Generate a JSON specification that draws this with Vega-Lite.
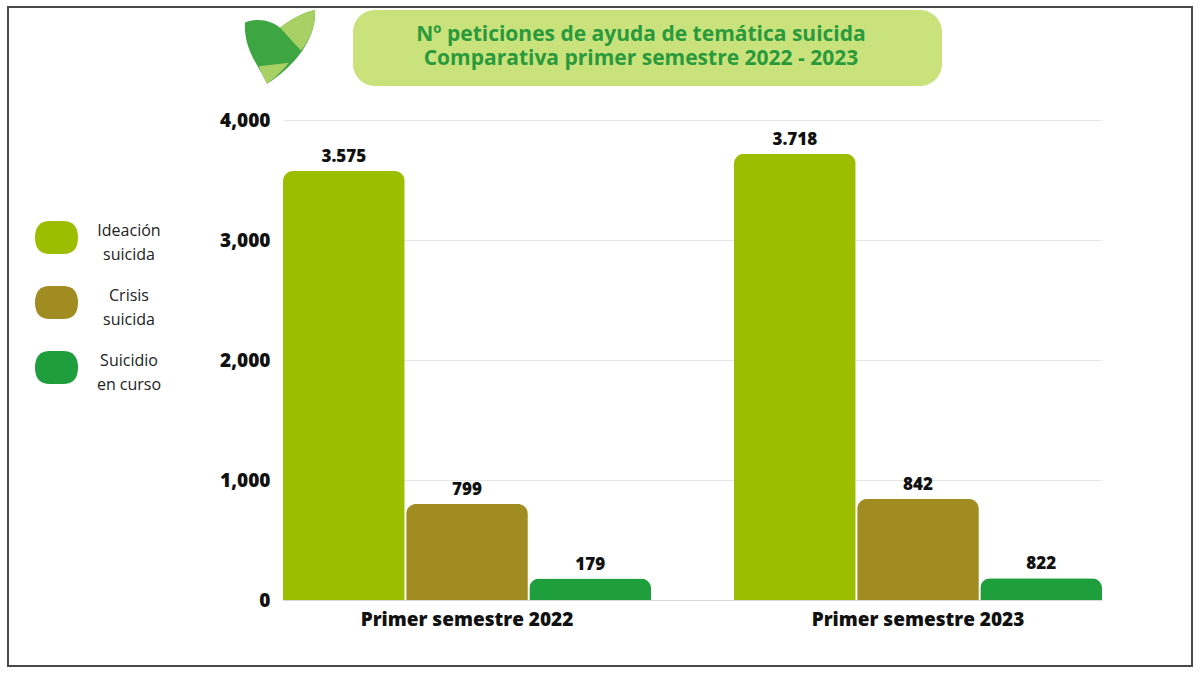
{
  "$schema": "https://vega.github.io/schema/vega-lite/v6.json",
  "background": "white",
  "autosize": "none",
  "padding": {"left": 8, "top": 7, "right": 8, "bottom": 9},
  "width": 1184,
  "height": 659,
  "view": {"stroke": "#4a4a4a", "strokeWidth": 2},
  "config": {
    "font": "Open Sans",
    "style": {"guide-label": {"lineHeight": 24}}
  },
  "data": {
    "values": [
      {"periodo": "Primer semestre 2022", "categoria": "Ideación suicida", "valor": 3575, "etiqueta": "3.575"},
      {"periodo": "Primer semestre 2022", "categoria": "Crisis suicida", "valor": 799, "etiqueta": "799"},
      {"periodo": "Primer semestre 2022", "categoria": "Suicidio en curso", "valor": 179, "etiqueta": "179"},
      {"periodo": "Primer semestre 2023", "categoria": "Ideación suicida", "valor": 3718, "etiqueta": "3.718"},
      {"periodo": "Primer semestre 2023", "categoria": "Crisis suicida", "valor": 842, "etiqueta": "842"},
      {"periodo": "Primer semestre 2023", "categoria": "Suicidio en curso", "valor": 182, "etiqueta": "822"}
    ]
  },
  "encoding": {
    "x": {
      "field": "periodo",
      "type": "nominal",
      "title": null,
      "scale": {"range": [275, 1094], "paddingInner": 0.184, "paddingOuter": 0},
      "axis": {"orient": "bottom", "offset": -66, "labelPadding": 10, "ticks": false, "domainColor": "#d9d9d9",
        "labelAngle": 0, "labelFontSize": 19, "labelFontWeight": 800, "labelColor": "#111", "labelLimit": 0}
    },
    "xOffset": {
      "field": "categoria",
      "type": "nominal",
      "sort": ["Ideación suicida", "Crisis suicida", "Suicidio en curso"],
      "scale": {"paddingInner": 0.012, "paddingOuter": 0}
    },
    "y": {
      "field": "valor",
      "type": "quantitative",
      "title": null,
      "scale": {"domain": [0, 4000], "range": [593, 113], "nice": false},
      "axis": {"values": [0, 1000, 2000, 3000, 4000], "format": ",d", "offset": -270, "domain": false, "ticks": false,
        "labelPadding": 8, "labelFontSize": 19, "labelFontWeight": 800, "labelColor": "#111", "gridColor": "#e6e6e6"}
    }
  },
  "layer": [
    {
      "mark": {"type": "bar", "cornerRadiusTopLeft": 10, "cornerRadiusTopRight": 10},
      "encoding": {
        "color": {
          "field": "categoria",
          "type": "nominal",
          "sort": ["Ideación suicida", "Crisis suicida", "Suicidio en curso"],
          "scale": {"domain": ["Ideación suicida", "Crisis suicida", "Suicidio en curso"], "range": ["#9dbe00", "#a08c20", "#1e9e3c"]},
          "legend": {
            "orient": "none", "legendX": 27, "legendY": 209, "title": null,
            "symbolType": "M -0.3,-0.77 L 0.3,-0.77 Q 1,-0.77 1,0 Q 1,0.77 0.3,0.77 L -0.3,0.77 Q -1,0.77 -1,0 Q -1,-0.77 -0.3,-0.77 Z",
            "symbolSize": 1849, "symbolStrokeWidth": 0, "symbolOpacity": 1,
            "labelAlign": "center", "labelOffset": 51, "labelFontSize": 16, "labelFontWeight": 500, "labelColor": "#222", "labelLimit": 0,
            "rowPadding": 18,
            "labelExpr": "[slice(datum.label, 0, indexof(datum.label, ' ')), slice(datum.label, indexof(datum.label, ' ') + 1)]",
            "encode": {"labels": {"update": {"dy": {"value": -7}}}}
          }
        }
      }
    },
    {
      "mark": {"type": "text", "dy": -9, "baseline": "alphabetic", "fontSize": 17, "fontWeight": 800, "color": "#111", "strokeWidth": 0, "strokeOpacity": 0},
      "encoding": {
        "text": {"field": "etiqueta"},
        "stroke": {
          "datum": 1,
          "type": "quantitative",
          "scale": {"domain": [0, 1], "range": ["#c9e27b", "#c9e27b"]},
          "legend": {
            "orient": "none", "legendX": 345, "legendY": 3, "direction": "horizontal",
            "title": ["Nº peticiones de ayuda de temática suicida", "Comparativa primer semestre 2022 - 2023"],
            "titleFontSize": 21, "titleFontWeight": 700, "titleColor": "#2a9a3c", "titleLineHeight": 24,
            "titleAnchor": "middle", "titleAlign": "center", "titleLimit": 0, "titlePadding": 1,
            "gradientLength": 561, "gradientThickness": 1, "gradientStrokeWidth": 0,
            "labelExpr": "''", "labelFontSize": 1, "labelOpacity": 0, "labelOffset": 0,
            "fillColor": "#c9e27b", "cornerRadius": 22, "padding": 14
          }
        }
      }
    },
    {
      "mark": {"type": "text", "color": "#3da541"},
      "encoding": {
        "text": {"value": ""},
        "opacity": {
          "datum": "logo-base",
          "type": "ordinal",
          "scale": {"domain": ["logo-base"], "range": [1, 1]},
          "legend": {
            "orient": "none", "legendX": 237, "legendY": 5, "title": null,
            "symbolType": "M -1,-0.7 C -0.6,-0.85 -0.25,-0.75 0,-0.55 C 0.3,-0.8 0.7,-1 1,-1.06 C 1.05,-0.3 0.5,0.5 -0.37,1.05 C -0.55,0.6 -1.05,0.1 -1,-0.7 Z",
            "symbolSize": 4900, "symbolStrokeWidth": 0,
            "labelExpr": "''", "labelFontSize": 1, "labelOpacity": 0
          }
        }
      }
    },
    {
      "mark": {"type": "text", "color": "#a8d064"},
      "encoding": {
        "text": {"value": ""},
        "size": {
          "datum": "logo-claro",
          "type": "ordinal",
          "scale": {"domain": ["logo-claro"], "range": [4900, 4900]},
          "legend": {
            "orient": "none", "legendX": 237, "legendY": 5, "title": null,
            "symbolType": "M 0,-0.55 C 0.3,-0.8 0.7,-1 1,-1.06 C 1.02,-0.6 0.85,-0.2 0.6,0.1 C 0.4,-0.1 0.2,-0.35 0,-0.55 Z M -0.6,0.55 L 0.25,0.45 C 0.05,0.7 -0.15,0.88 -0.37,1.05 C -0.45,0.9 -0.55,0.72 -0.6,0.55 Z",
            "symbolStrokeWidth": 0, "symbolOpacity": 1,
            "labelExpr": "''", "labelFontSize": 1, "labelOpacity": 0
          }
        }
      }
    },
    {
      "mark": {"type": "text", "color": "#ffffff"},
      "encoding": {
        "text": {"value": ""},
        "strokeWidth": {
          "datum": "logo-trazo",
          "type": "ordinal",
          "scale": {"domain": ["logo-trazo"], "range": [0, 0]},
          "legend": {
            "orient": "none", "legendX": 237, "legendY": 5, "title": null,
            "symbolType": "M -0.55,0.8 C -0.35,0.15 0,-0.35 0.4,-0.25 C 0.62,-0.15 0.4,0.35 -0.3,0.35 L -0.28,0.23 C 0.22,0.2 0.4,-0.06 0.32,-0.12 C 0.05,-0.2 -0.25,0.2 -0.42,0.82 Z",
            "symbolSize": 4900, "symbolOpacity": 1,
            "labelExpr": "''", "labelFontSize": 1, "labelOpacity": 0
          }
        }
      }
    }
  ]
}
